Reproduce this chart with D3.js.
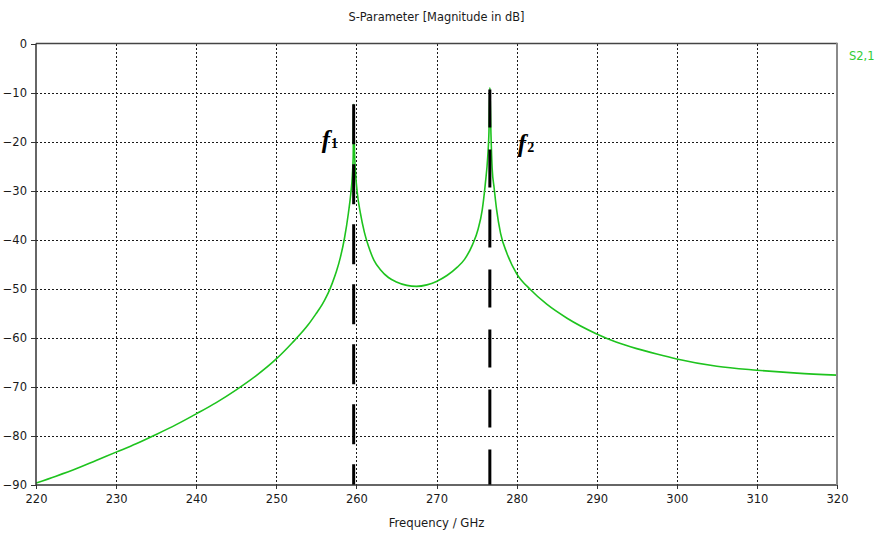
<!DOCTYPE html>
<html>
<head>
<meta charset="utf-8">
<script src="https://cdn.jsdelivr.net/npm/d3@7"></script>
<style>
  html, body { margin: 0; padding: 0; background: #fff; }
  svg { display: block; }
  .tick text { font-family: "DejaVu Sans", sans-serif; font-size: 11.5px; fill: #1a1a1a; }
</style>
</head>
<body>
<svg id="chart" width="876" height="535"></svg>
<script>
// S2,1 magnitude (dB) versus frequency (GHz)
const freqGHz = [
  220, 222.5, 225, 227.5, 230, 232.5, 235, 237.5, 240, 242.5, 245, 247.5, 250,
  252, 254, 255, 255.5, 256, 256.5, 257, 257.5, 258, 258.5, 259.0, 259.3, 259.5,
  259.6, 259.66, 259.75, 259.9, 260.1, 260.5, 261, 261.5, 262.2, 263, 264, 265,
  266.3, 267.5, 268.8, 270, 271.3, 272.6, 273.5, 274.5, 275.2, 275.7, 276.1,
  276.4, 276.55, 276.66, 276.8, 276.95, 277.2, 277.5, 278, 278.8, 280, 281.75,
  283.8, 286.3, 290, 292.5, 295, 297.5, 300, 305, 310, 315, 320
];
const s21dB = [
  -89.6, -88.2, -86.7, -85.0, -83.3, -81.6, -79.7, -77.7, -75.5, -73.2, -70.6, -67.7, -64.3,
  -61.0, -57.3, -55.0, -53.8, -52.4, -50.8, -48.8, -46.5, -43.6, -39.8, -34.6, -30.6, -26.8,
  -23.0, -12.4, -21.0, -26.5, -30.3, -34.6, -38.5, -41.3, -44.2, -46.1, -47.7, -48.6,
  -49.3, -49.5, -49.2, -48.5, -47.3, -45.6, -44.0, -41.0, -37.8, -34.0, -28.5,
  -23.0, -18.0, -9.0, -18.5, -25.5, -29.5, -33.8, -38.7, -42.8, -46.9, -50.2,
  -53.2, -56.0, -59.2, -60.9, -62.2, -63.3, -64.3, -65.8, -66.6, -67.2, -67.6
];

// Resonance markers f1, f2 (frequency, top of dashed line in dB)
const markerNames = ["1", "2"];
const markerFreqs = [259.66, 276.66];
const markerTops = [-12.4, -9.4];

// Axis ticks
const xTicks = [220, 230, 240, 250, 260, 270, 280, 290, 300, 310, 320];
const yTicks = [0, -10, -20, -30, -40, -50, -60, -70, -80, -90];

const titleText = "S-Parameter [Magnitude in dB]";
const xLabelText = "Frequency / GHz";
const legendText = "S2,1";

const svg = d3.select("#chart");
const margin = { left: 36, right: 39, top: 43.5, bottom: 50 };
const W = 876, H = 535;

const x = d3.scaleLinear().domain([220, 320]).range([margin.left, W - margin.right]);
const y = d3.scaleLinear().domain([-90, 0]).range([H - margin.bottom, margin.top]);

const curveColor = "#1ec31e";

// Grid
const grid = svg.append("g").attr("stroke", "#1a1a1a").attr("stroke-width", 1)
  .attr("stroke-dasharray", "2,2").attr("shape-rendering", "crispEdges");
grid.selectAll("line.v").data(xTicks.slice(1, -1)).join("line")
  .attr("x1", d => Math.round(x(d)) + 0.5).attr("x2", d => Math.round(x(d)) + 0.5)
  .attr("y1", y(0)).attr("y2", y(-90));
grid.selectAll("line.h").data(yTicks.slice(1, -1)).join("line")
  .attr("y1", d => Math.round(y(d)) + 0.5).attr("y2", d => Math.round(y(d)) + 0.5)
  .attr("x1", x(220)).attr("x2", x(320));

// Clip for the data
svg.append("clipPath").attr("id", "plotClip").append("rect")
  .attr("x", x(220)).attr("y", y(0)).attr("width", x(320) - x(220)).attr("height", y(-90) - y(0));

const plot = svg.append("g").attr("clip-path", "url(#plotClip)");

const line = d3.line().x((d, i) => x(freqGHz[i])).y(d => y(d)).curve(d3.curveMonotoneX);
plot.append("path").datum(s21dB)
  .attr("fill", "none").attr("stroke", curveColor).attr("stroke-width", 1.6)
  .attr("d", line);

// Dashed resonance markers
const dashPatterns = ["40,20", "38,22"];
plot.selectAll("line.marker").data(markerFreqs).join("line")
  .attr("x1", d => x(d)).attr("x2", d => x(d))
  .attr("y1", (d, i) => y(markerTops[i])).attr("y2", y(-90))
  .attr("stroke", "#000").attr("stroke-width", 3)
  .attr("stroke-dasharray", (d, i) => dashPatterns[i]);

// Marker labels f1, f2
const labelOffsets = [-32, 28];
const labelBaselines = [148, 151.5];
markerFreqs.forEach((f, i) => {
  const t = svg.append("text")
    .attr("x", x(f) + labelOffsets[i]).attr("y", labelBaselines[i])
    .attr("font-family", "'Liberation Serif', 'Times New Roman', serif")
    .attr("font-weight", "bold").attr("fill", "#000");
  t.append("tspan").attr("font-style", "italic").attr("font-size", 25).text("f");
  t.append("tspan").attr("font-size", 14).attr("dx", 1).text(markerNames[i]);
});

// Axes
const xAxis = d3.axisBottom(x).tickValues(xTicks).tickSize(4).tickPadding(6);
const yAxis = d3.axisLeft(y).tickValues(yTicks).tickSize(5).tickPadding(4);

const gx = svg.append("g").attr("transform", `translate(0,${y(-90)})`).call(xAxis);
const gy = svg.append("g").attr("transform", `translate(${x(220)},0)`).call(yAxis);
[gx, gy].forEach(g => {
  g.select(".domain").remove();
  g.selectAll(".tick line").attr("stroke", "#333").attr("shape-rendering", "crispEdges");
});

// Frame
svg.append("line").attr("x1", x(220)).attr("x2", x(320)).attr("y1", y(0)).attr("y2", y(0))
  .attr("stroke", "#444").attr("stroke-width", 1.5);
svg.append("line").attr("x1", x(220)).attr("x2", x(320)).attr("y1", y(-90)).attr("y2", y(-90))
  .attr("stroke", "#333").attr("stroke-width", 1.5);
svg.append("line").attr("x1", x(220)).attr("x2", x(220)).attr("y1", y(0)).attr("y2", y(-90))
  .attr("stroke", "#333").attr("stroke-width", 1.5);
svg.append("line").attr("x1", x(320)).attr("x2", x(320)).attr("y1", y(0) - 0.75).attr("y2", y(-90))
  .attr("stroke", "#8a8a8a").attr("stroke-width", 2);

// Title, axis label, legend
svg.append("text").attr("x", (x(220) + x(320)) / 2).attr("y", 21)
  .attr("text-anchor", "middle").attr("font-family", "'DejaVu Sans', sans-serif")
  .attr("font-size", 11.4).attr("fill", "#1a1a1a").text(titleText);
svg.append("text").attr("x", (x(220) + x(320)) / 2).attr("y", 527)
  .attr("text-anchor", "middle").attr("font-family", "'DejaVu Sans', sans-serif")
  .attr("font-size", 11.7).attr("fill", "#1a1a1a").text(xLabelText);
svg.append("text").attr("x", 849).attr("y", 60)
  .attr("font-family", "'DejaVu Sans', sans-serif")
  .attr("font-size", 11.5).attr("fill", "#33cc33").text(legendText);
</script>
</body>
</html>
